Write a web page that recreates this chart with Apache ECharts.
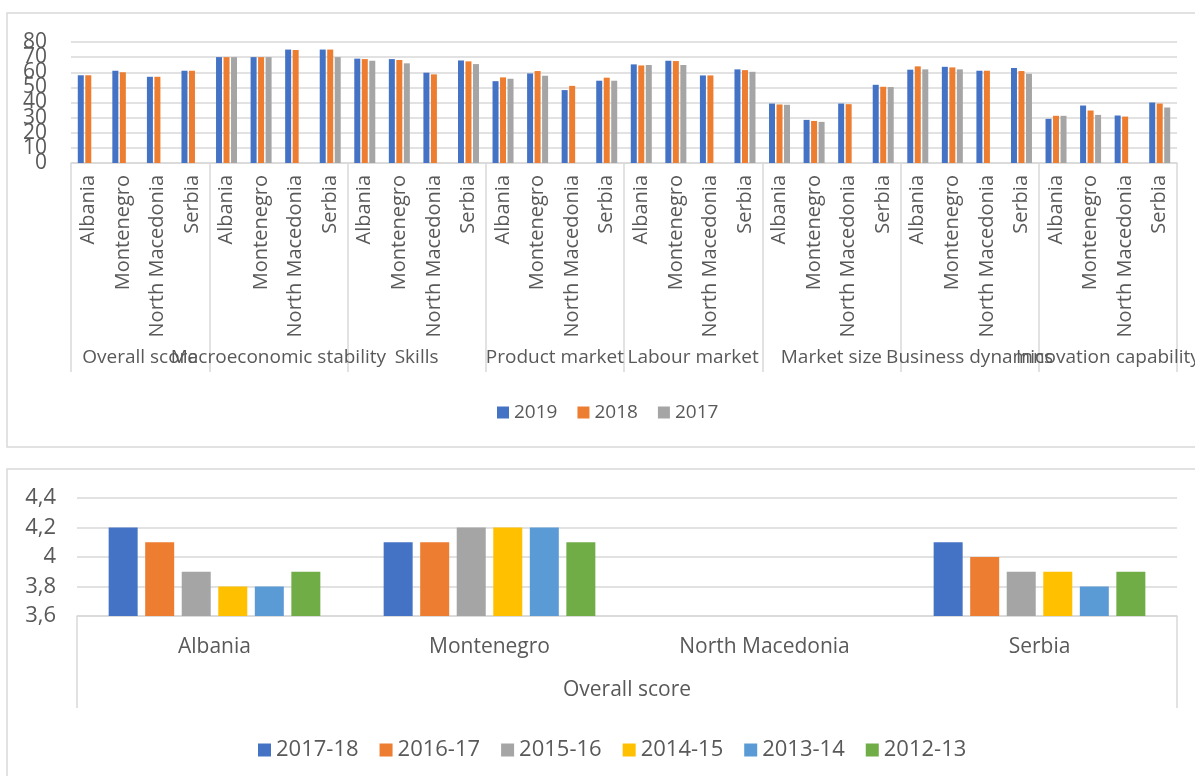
<!DOCTYPE html>
<html>
<head>
<meta charset="utf-8">
<script src="https://cdn.jsdelivr.net/npm/echarts@6/dist/echarts.min.js"></script>
<style>
  html, body { margin: 0; padding: 0; background: #fff; }
  #chart { width: 1195px; height: 776px; }
</style>
</head>
<body>
<div id="chart"></div>
<script>
// top chart data
var countries = ['Albania', 'Montenegro', 'North Macedonia', 'Serbia'];
var pillars = ['Overall score', 'Macroeconomic stability', 'Skills', 'Product market',
    'Labour market', 'Market size', 'Business dynamics', 'Innovation capability'];
var years = ['2019', '2018', '2017'];
var v2019 = [58, 61, 57, 61,  70, 70, 75, 75,  69, 68.7, 59.7, 67.8,  54.1, 59.2, 48.2, 54.4,
    65.2, 67.6, 57.9, 61.9,  39.3, 28.5, 39.3, 51.7,  61.7, 63.6, 61, 62.8,  29.2, 38, 31.4, 40];
var v2018 = [58, 60, 57, 61,  70, 70, 74.7, 75,  68.7, 68.1, 58.6, 67.2,  56.6, 60.8, 51, 56.4,
    64.5, 67.4, 57.9, 61.4,  38.7, 27.8, 38.9, 50.4,  63.9, 63.2, 61, 60.8,  31.2, 34.7, 30.7, 39.3];
var v2017 = [null, null, null, null,  70, 70, null, 70,  67.6, 65.9, null, 65.4,  55.7, 57.7, null, 54.4,
    64.8, 64.8, null, 60.3,  38.5, 27.2, null, 50.2,  61.9, 61.9, null, 59,  31.2, 31.8, null, 36.7];
var topTicks = [0, 10, 20, 30, 40, 50, 60, 70, 80];

// bottom chart data
var periods = ['2017-18', '2016-17', '2015-16', '2014-15', '2013-14', '2012-13'];
var scoreAlbania = [4.2, 4.1, 3.9, 3.8, 3.8, 3.9];
var scoreMontenegro = [4.1, 4.1, 4.2, 4.2, 4.2, 4.1];
var scoreNorthMacedonia = [null, null, null, null, null, null];
var scoreSerbia = [4.1, 4.0, 3.9, 3.9, 3.8, 3.9];
var bottomTicks = [3.6, 3.8, 4.0, 4.2, 4.4];

var topColors = ['#4472C4', '#ED7D31', '#A5A5A5'];
var bottomColors = ['#4472C4', '#ED7D31', '#A5A5A5', '#FFC000', '#5B9BD5', '#70AD47'];
var txt = '#595959';
var grid = '#D9D9D9';
var font = '"Open Sans", "DejaVu Sans", sans-serif';

var topCats = [];
pillars.forEach(function () {
    countries.forEach(function (c) { topCats.push(c); });
});

var myChart = echarts.init(document.getElementById('chart'));

var series = [];
[v2019, v2018, v2017].forEach(function (arr, i) {
    series.push({
        name: years[i], type: 'bar', xAxisIndex: 0, yAxisIndex: 0,
        barWidth: 6, barGap: '25%',
        itemStyle: { color: topColors[i] },
        data: arr
    });
});
periods.forEach(function (p, i) {
    series.push({
        name: p, type: 'bar', xAxisIndex: 2, yAxisIndex: 1,
        barWidth: 29, barGap: '26%',
        itemStyle: { color: bottomColors[i] },
        data: [scoreAlbania[i], scoreMontenegro[i], scoreNorthMacedonia[i], scoreSerbia[i]]
    });
});

// the top axis labels overlap (like the original), so split them over two axes
function topYAxis(odd, showSplit) {
    return {
        type: 'value', gridIndex: 0, position: 'left', offset: 0,
        min: topTicks[0], max: topTicks[topTicks.length - 1], interval: 10,
        axisLine: { show: false }, axisTick: { show: false },
        splitLine: { show: showSplit, lineStyle: { color: grid, width: 1.5 } },
        axisLabel: { margin: 24, fontSize: 21, color: txt, fontFamily: font,
            showMinLabel: true, showMaxLabel: true,
            formatter: function (v) { return ((v / 10) % 2 === 1) === odd ? String(v) : ''; } }
    };
}

var option = {
    animation: false,
    textStyle: { fontFamily: font },
    graphic: [
        { type: 'rect', shape: { x: 7, y: 13, width: 1200, height: 434 },
          style: { fill: 'none', stroke: grid, lineWidth: 1.5 } },
        { type: 'rect', shape: { x: 7, y: 469, width: 1200, height: 330 },
          style: { fill: 'none', stroke: grid, lineWidth: 1.5 } }
    ],
    grid: [
        { left: 71, right: 18, top: 42, height: 121, outerBoundsMode: 'none' },
        { left: 77, right: 18, top: 498, height: 118, outerBoundsMode: 'none' }
    ],
    legend: [
        { data: years, left: 492, top: 398, icon: 'rect', itemWidth: 12, itemHeight: 12, itemGap: 20,
          textStyle: { fontSize: 19, color: txt, fontFamily: font } },
        { data: periods, left: 253, top: 734, icon: 'rect', itemWidth: 13, itemHeight: 13, itemGap: 21,
          textStyle: { fontSize: 22, color: txt, fontFamily: font } }
    ],
    xAxis: [
        { type: 'category', gridIndex: 0, data: topCats, position: 'bottom',
          axisLine: { lineStyle: { color: grid, width: 1.5 } },
          axisTick: { show: false },
          axisLabel: { interval: 0, rotate: 90, margin: 12, fontSize: 20, color: txt, fontFamily: font } },
        { type: 'category', gridIndex: 0, data: pillars, position: 'bottom',
          axisLine: { show: false },
          axisTick: { show: true, length: 209, lineStyle: { color: grid, width: 1.5 } },
          axisLabel: { interval: 0, margin: 185, fontSize: 19, color: txt, fontFamily: font } },
        { type: 'category', gridIndex: 1, data: countries, position: 'bottom',
          axisLine: { lineStyle: { color: grid, width: 1.5 } },
          axisTick: { show: false },
          axisLabel: { interval: 0, margin: 21, fontSize: 21, color: txt, fontFamily: font } },
        { type: 'category', gridIndex: 1, data: ['Overall score'], position: 'bottom',
          axisLine: { show: false },
          axisTick: { show: true, length: 92, lineStyle: { color: grid, width: 1.5 } },
          axisLabel: { interval: 0, margin: 64, fontSize: 21, color: txt, fontFamily: font } }
    ],
    yAxis: [
        topYAxis(false, true),
        { type: 'value', gridIndex: 1, position: 'left',
          min: bottomTicks[0], max: bottomTicks[bottomTicks.length - 1], interval: 0.2,
          axisLine: { show: false }, axisTick: { show: false },
          splitLine: { lineStyle: { color: grid, width: 1.5 } },
          axisLabel: { margin: 21, fontSize: 22, color: txt, fontFamily: font,
              showMinLabel: true, showMaxLabel: true,
              formatter: function (v) { return String(+v.toFixed(1)).replace('.', ','); } } },
        topYAxis(true, false)
    ],
    series: series
};

myChart.setOption(option);
</script>
</body>
</html>
